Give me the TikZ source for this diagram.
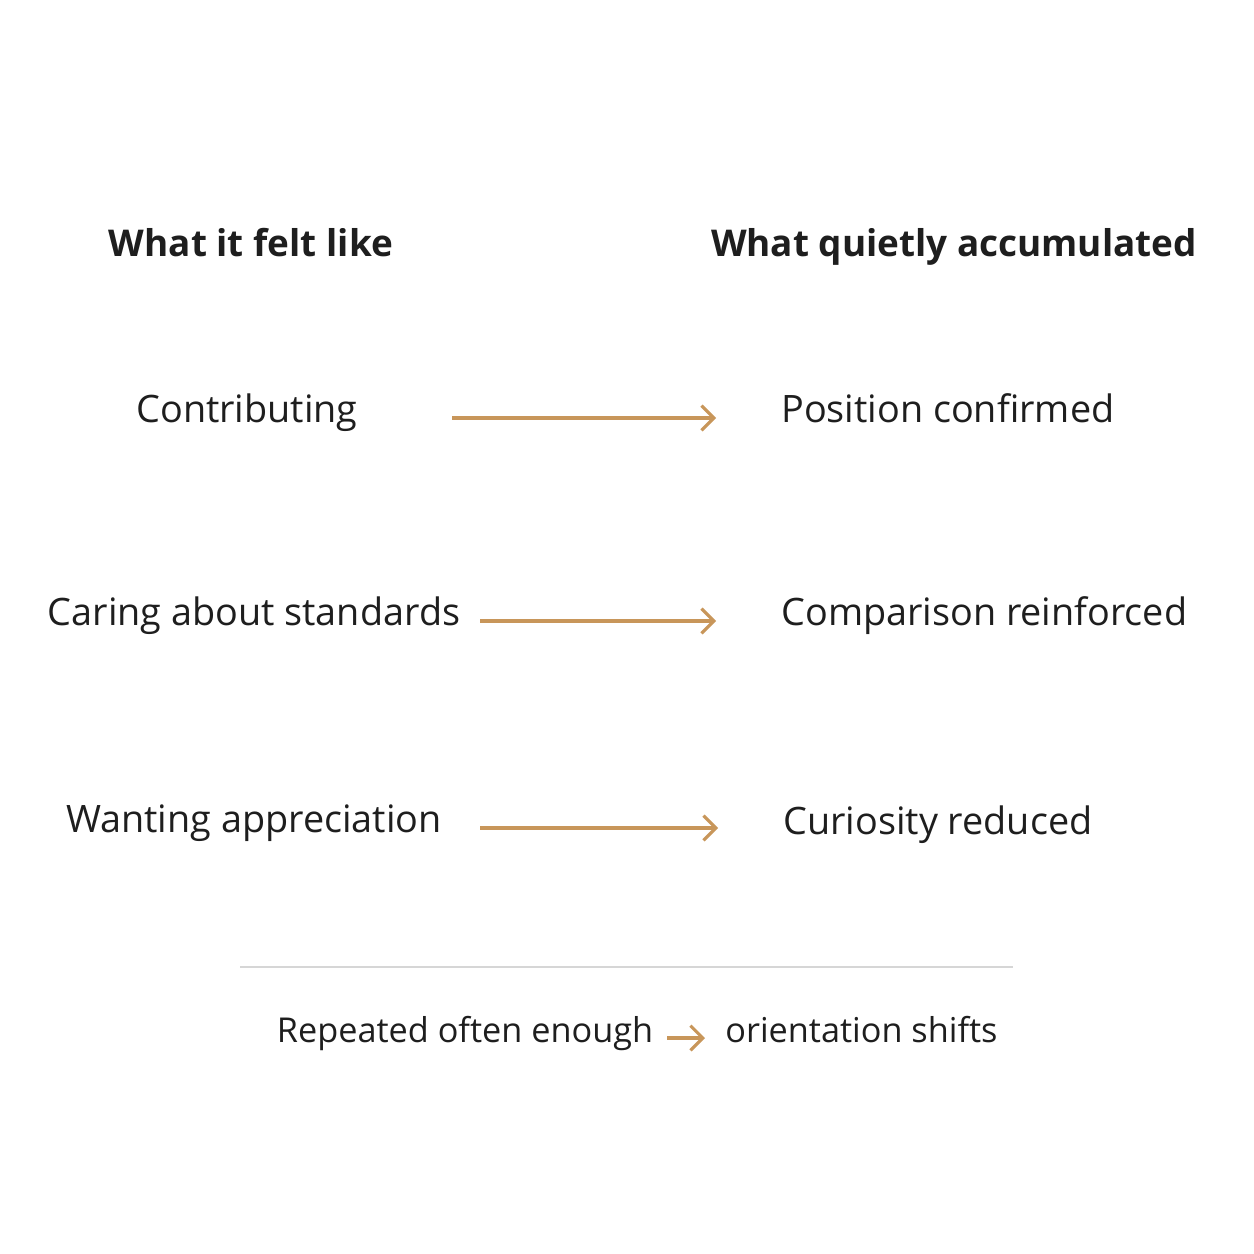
\documentclass[tikz,border=0pt]{standalone}
\usepackage{fontspec}
\setmainfont{Open Sans}
\usetikzlibrary{arrows.meta}
\definecolor{gold}{HTML}{C8965A}
\definecolor{rule}{HTML}{D6D6D6}
\definecolor{ink}{HTML}{1E1E1E}

\begin{document}
\begin{tikzpicture}[x=0.02cm,y=-0.02cm,
    head/.style={font=\bfseries\fontsize{21}{26}\selectfont,text=ink,inner sep=0,text height=0.75em,text depth=0.22em},
    feel/.style={font=\fontsize{21.5}{26}\selectfont,text=ink,inner sep=0,text height=0.75em,text depth=0.22em},
    gain/.style={feel,anchor=west},
    link/.style={gold,line width=1.8pt,-{Straight Barb[length=7pt,width=14pt]},shorten >=1.3cm}]
    \useasboundingbox[fill=white] (0,0) rectangle (1254,1254);
    \node[head] (hl) at (251,252) {What it felt like};
    \node[head] (hr) at (954,252) {What quietly accumulated};
    \node[feel] (f1) at (247,418) {Contributing};
    \node[feel] (f2) at (254,621) {Caring about standards};
    \node[feel] (f3) at (254,828) {Wanting appreciation};
    \node[gain] (g1) at (781,418) {Position confirmed};
    \node[gain] (g2) at (781,621) {Comparison reinforced};
    \node[gain] (g3) at (783,830) {Curiosity reduced};
    \coordinate (s1) at (452,418);
    \coordinate (s2) at (480,621);
    \coordinate (s3) at (480,828);
    \draw [link](s1) -- (g1.west |- s1);
    \draw [link](s2) -- (g2.west |- s2);
    \draw [link](s3) -- (g3.west |- s3);
    \draw [rule,line width=1pt](240,967) -- (1013,967);
    \node[feel,font=\fontsize{19.5}{24}\selectfont] (b1) at (465,1038) {Repeated often enough};
    \node[feel,font=\fontsize{19.5}{24}\selectfont,anchor=west] (b2) at (725,1038) {orientation shifts};
    \coordinate (s4) at (667,1038);
    \draw [link,shorten >=0.4cm](s4) -- (b2.west |- s4);
\end{tikzpicture}
\end{document}
